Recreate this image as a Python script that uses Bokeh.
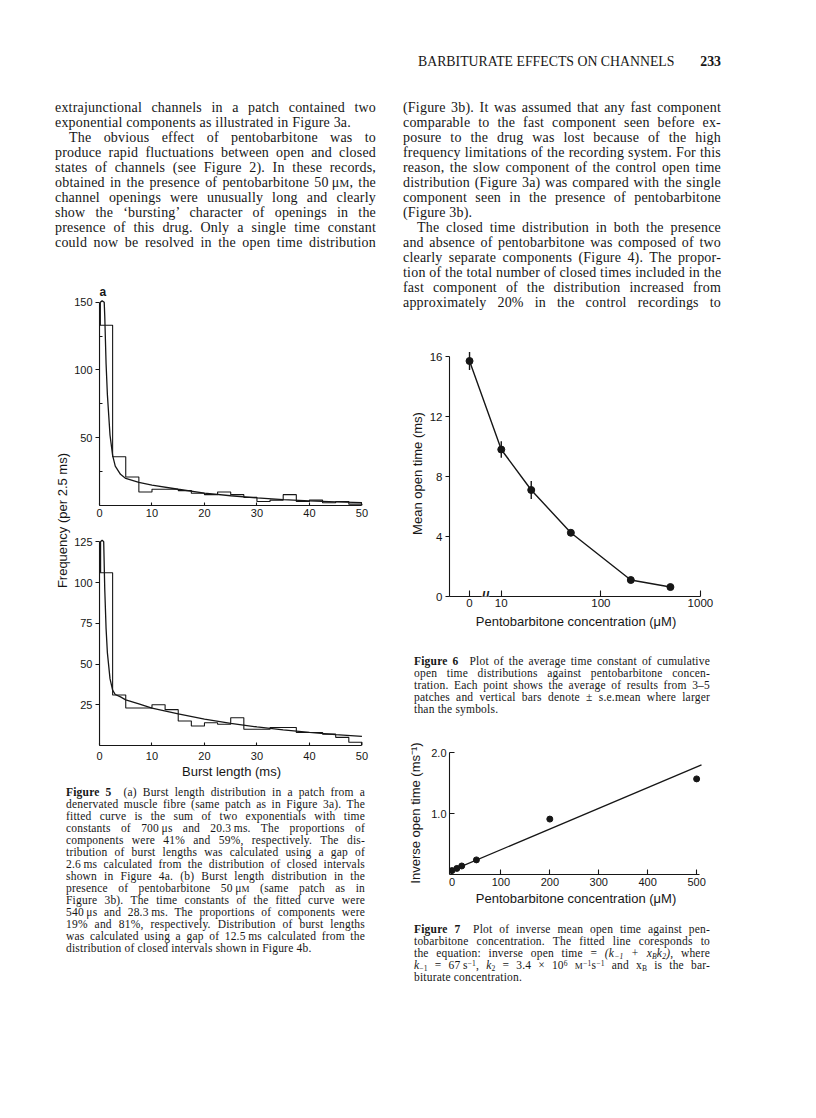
from bokeh.plotting import figure
from bokeh.models import Range1d, FixedTicker, Label, Title, Div, Spacer, NumeralTickFormatter
from bokeh.layouts import column, row
from bokeh.embed import file_html
from bokeh.resources import INLINE

SERIF = "Liberation Serif"
SANS = "Liberation Sans"
INK = "#161616"

# ---------------- Figure 5 data ----------------
BIN_START_MS = [0, 2.5, 5, 7.5, 10, 12.5, 15, 17.5, 20, 22.5, 25, 27.5, 30,
                32.5, 35, 37.5, 40, 42.5, 45, 47.5]
BIN_WIDTH_MS = 2.5
COUNTS_A = [133, 36, 21, 10, 12, 12, 11, 9, 8, 10, 8, 6, 3, 4, 8, 3, 4, 2, 3, 1]
COUNTS_B = [106, 31, 23, 23, 25, 22, 15, 12, 14, 13, 17, 10, 10, 11, 11, 8, 8, 7, 5, 2]
FIT_A_X = [0.15, 0.15, 0.5, 0.9, 1.0, 1.25, 1.5, 2, 2.5, 3, 4, 5, 7.5, 10, 15, 20,
           25, 30, 35, 40, 45, 50]
FIT_A_Y = [133, 150, 151, 150, 140, 105, 82, 52, 37, 29, 23, 20, 17, 15, 12, 9.2,
           7.2, 5.6, 4.4, 3.4, 2.7, 2.1]
FIT_B_X = [0.2, 0.2, 0.5, 0.8, 1.0, 1.25, 1.5, 2, 2.5, 3, 4, 5, 7.5, 10, 15, 20,
           25, 30, 35, 40, 45, 50]
FIT_B_Y = [106, 125, 126, 125, 96, 72, 57, 41, 34, 31.3, 29.8, 28, 25.5, 23, 19.4,
           16.2, 13.6, 11.4, 9.6, 8, 6.7, 5.6]
X_TICKS_5 = [0, 10, 20, 30, 40, 50]
Y_TICKS_5A = [50, 100, 150]
Y_MINOR_5A = [25, 75, 125]
Y_TICKS_5B = [25, 50, 75, 100, 125]

# ---------------- Figure 6 data ----------------
CONC = [0, 10, 20, 50, 200, 500]
MEAN_OPEN_MS = [15.7, 9.8, 7.1, 4.25, 1.1, 0.63]
SEM_MS = [0.6, 0.55, 0.6, 0.0, 0.0, 0.0]
ZERO_POS = 4.8            # where the control (0 uM) point sits on the broken log axis
X_TICKS_6 = [ZERO_POS, 10, 100, 1000]
X_LABELS_6 = ["0", "10", "100", "1000"]
Y_TICKS_6 = [0, 4, 8, 12, 16]

# ---------------- Figure 7 data ----------------
CONC7 = [0, 10, 20, 50, 200, 500]
INV_OPEN = [0.064, 0.10, 0.14, 0.24, 0.91, 1.57]
FIT7_X = [0, 510]
FIT7_Y = [0.067, 1.80]
X_TICKS_7 = [0, 100, 200, 300, 400, 500]
Y_TICKS_7 = [1.0, 2.0]


def style_axes(p, tick_size="11px", label_size="13px"):
    p.grid.visible = False
    p.outline_line_color = None
    for ax in p.axis:
        ax.axis_line_color = INK
        ax.axis_line_width = 1.1
        ax.major_tick_line_color = INK
        ax.major_tick_line_width = 1.1
        ax.minor_tick_line_color = None
        ax.major_label_text_font = SANS
        ax.major_label_text_font_size = tick_size
        ax.major_label_text_color = INK
        ax.axis_label_text_font = SANS
        ax.axis_label_text_font_size = label_size
        ax.axis_label_text_font_style = "normal"
        ax.axis_label_text_color = INK


def step_outline(starts, counts, width):
    xs = [starts[0]] + list(starts) + [starts[-1] + width]
    ys = [0] + list(counts) + [0]
    return xs, ys


def hist_fig(height, yr, top, bottom, counts, fx, fy, yticks, yminor):
    p = figure(width=305, height=height, x_range=Range1d(0, 50.3), y_range=Range1d(0, yr),
               min_border_left=28, min_border_right=13, min_border_top=top,
               min_border_bottom=bottom, output_backend="svg", toolbar_location=None,
               title=None)
    xs, ys = step_outline(BIN_START_MS, counts, BIN_WIDTH_MS)
    p.step(x=xs, y=ys, mode="after", line_color=INK, line_width=1.1)
    p.line(x=fx, y=fy, line_color=INK, line_width=1.3)
    style_axes(p)
    p.xaxis.ticker = FixedTicker(ticks=X_TICKS_5)
    p.xaxis.bounds = (0, 50)
    p.xaxis.major_tick_in = 3
    p.xaxis.major_tick_out = 0
    p.yaxis.ticker = FixedTicker(ticks=yticks, minor_ticks=yminor)
    p.yaxis.bounds = (0, yticks[-1])
    p.yaxis.major_tick_out = 4
    p.yaxis.major_tick_in = 0
    p.yaxis.minor_tick_line_color = INK
    p.yaxis.minor_tick_in = 3
    p.yaxis.minor_tick_out = 0
    p.yaxis.major_label_standoff = 3
    return p


# panel a: frame 206 px tall, tick labels only below
fig5a = hist_fig(273, 152, 49, 18, COUNTS_A, FIT_A_X, FIT_A_Y, Y_TICKS_5A, Y_MINOR_5A)
fig5a.xaxis.major_label_standoff = 3
fig5a.add_layout(Title(text="a", align="left", text_font=SANS, text_font_size="12px",
                       text_font_style="bold", text_color=INK, standoff=2), "above")

# panel b: frame 207 px tall; its top margin carries panel a's axis title and the "b"
FRAME_B = 207
fig5b = hist_fig(260, 127, 15, 38, COUNTS_B, FIT_B_X, FIT_B_Y, Y_TICKS_5B, [])
fig5b.xaxis.major_label_standoff = 6
fig5b.xaxis.axis_label = "Burst length (ms)"
fig5b.xaxis.axis_label_standoff = 1
fig5b.add_layout(Label(x=0.4, y=FRAME_B + 8, x_units="data", y_units="screen", text="b",
                       text_font=SANS, text_font_size="12px", text_font_style="bold",
                       text_color=INK, text_baseline="middle", text_align="left"))
fig5b.add_layout(Label(x=X_TICKS_5[-1] / 2, y=FRAME_B + 8, x_units="data", y_units="screen",
                       text="Burst length (ms)", text_font=SANS, text_font_size="13px",
                       text_color=INK, text_baseline="middle", text_align="center"))

# ---------------- Figure 6 ----------------
x6_start = 3.02
fig6 = figure(width=318, height=327, x_axis_type="log", x_range=Range1d(x6_start, 1050),
              y_range=Range1d(0, 16.4), min_border_left=46, min_border_right=19,
              min_border_top=40, min_border_bottom=41, output_backend="svg",
              toolbar_location=None, title=None)
x6 = [ZERO_POS if c == 0 else c for c in CONC]
fig6.line(x=x6, y=MEAN_OPEN_MS, line_color=INK, line_width=1.4)
fig6.segment(x0=x6, y0=[m - s for m, s in zip(MEAN_OPEN_MS, SEM_MS)],
             x1=x6, y1=[m + s for m, s in zip(MEAN_OPEN_MS, SEM_MS)],
             line_color=INK, line_width=1.4)
fig6.scatter(x=x6, y=MEAN_OPEN_MS, size=7, marker="circle", fill_color=INK, line_color=INK)
style_axes(fig6, tick_size="11.5px")
fig6.xaxis.ticker = FixedTicker(ticks=X_TICKS_6)
fig6.xaxis.major_label_overrides = {t: s for t, s in zip(X_TICKS_6, X_LABELS_6)}
fig6.xaxis.bounds = (x6_start, X_TICKS_6[-1])
fig6.xaxis.major_tick_in = 6
fig6.xaxis.major_tick_out = 0
fig6.xaxis.major_label_standoff = 2
fig6.xaxis.axis_label = "Pentobarbitone concentration (μM)"
fig6.xaxis.axis_label_standoff = 4
fig6.yaxis.ticker = FixedTicker(ticks=Y_TICKS_6)
fig6.yaxis.bounds = (0, Y_TICKS_6[-1])
fig6.yaxis.major_tick_out = 4
fig6.yaxis.major_tick_in = 0
fig6.yaxis.major_label_standoff = 3
fig6.yaxis.axis_label = "Mean open time (ms)"
fig6.yaxis.axis_label_standoff = 2
# axis-break mark between the control point and 10 uM (white box interrupts the axis line)
fig6.add_layout(Label(x=(ZERO_POS * X_TICKS_6[1]) ** 0.5, y=0, text="//", text_font=SANS,
                      text_font_size="14px", text_font_style="bold", text_color=INK,
                      text_align="center", text_baseline="middle",
                      background_fill_color="white", background_fill_alpha=1.0))

# ---------------- Figure 7 ----------------
x7_start = -5
fig7 = figure(width=318, height=199, x_range=Range1d(x7_start, 512), y_range=Range1d(0, 2.02),
              min_border_left=36, min_border_right=6, min_border_top=36,
              min_border_bottom=40, output_backend="svg", toolbar_location=None,
              title=None)
fig7.line(x=FIT7_X, y=FIT7_Y, line_color=INK, line_width=1.3)
fig7.scatter(x=CONC7, y=INV_OPEN, size=6, marker="circle", fill_color=INK, line_color=INK)
style_axes(fig7)
fig7.yaxis.bounds = (0, Y_TICKS_7[-1])
fig7.yaxis.ticker = FixedTicker(ticks=Y_TICKS_7)
fig7.yaxis.formatter = NumeralTickFormatter(format="0.0")
fig7.yaxis.major_tick_in = 5
fig7.yaxis.major_tick_out = 0
fig7.yaxis.major_label_standoff = 3
fig7.yaxis.axis_label = "Inverse open time (ms⁻¹)"
fig7.yaxis.axis_label_standoff = 5
fig7.xaxis.ticker = FixedTicker(ticks=X_TICKS_7)
fig7.xaxis.bounds = (x7_start, 505)
fig7.xaxis.major_tick_in = 5
fig7.xaxis.major_tick_out = 0
fig7.xaxis.major_label_standoff = 3
fig7.xaxis.axis_label = "Pentobarbitone concentration (μM)"
fig7.xaxis.axis_label_standoff = 2

# ---------------- Text blocks ----------------
MU_M = 'μ<span style="font-size:0.78em">M</span>'
SMALL_M = '<span style="font-size:0.78em">M</span>'


def fix_subsup(s):
    s = s.replace("<sub>", '<sub style="font-size:0.66em;line-height:0;vertical-align:-0.2em">')
    s = s.replace("<sup>", '<sup style="font-size:0.66em;line-height:0;vertical-align:0.4em">')
    return s


def text_block(lines, size, lh, width, height, pad_left=0, inner_width=None, ls=0.2):
    parts = []
    for txt, fl in lines:
        last = "left" if "l" in fl else "justify"
        indent = "14px" if "i" in fl else "0"
        parts.append(
            f'<div style="text-align:justify;text-align-last:{last};text-indent:{indent};'
            f'white-space:nowrap;height:{lh}px;overflow:visible">{fix_subsup(txt)}</div>')
    w = inner_width if inner_width else width - pad_left
    html = (f'<div style="font-family:\'{SERIF}\';font-size:{size}px;line-height:{lh}px;'
            f'letter-spacing:{ls}px;color:{INK};width:{w}px;margin-left:{pad_left}px">'
            + "".join(parts) + "</div>")
    return Div(text=html, width=width, height=height, margin=0, disable_math=True)


LEFT_BODY = [
    ("extrajunctional channels in a patch contained two", "j"),
    ("exponential components as illustrated in Figure 3a.", "l"),
    ("The obvious effect of pentobarbitone was to", "i"),
    ("produce rapid fluctuations between open and closed", "j"),
    ("states of channels (see Figure 2). In these records,", "j"),
    (f"obtained in the presence of pentobarbitone 50&thinsp;{MU_M}, the", "j"),
    ("channel openings were unusually long and clearly", "j"),
    ("show the &lsquo;bursting&rsquo; character of openings in the", "j"),
    ("presence of this drug. Only a single time constant", "j"),
    ("could now be resolved in the open time distribution", "j"),
]
RIGHT_BODY = [
    ("(Figure 3b). It was assumed that any fast component", "j"),
    ("comparable to the fast component seen before ex-", "j"),
    ("posure to the drug was lost because of the high", "j"),
    ("frequency limitations of the recording system. For this", "j"),
    ("reason, the slow component of the control open time", "j"),
    ("distribution (Figure 3a) was compared with the single", "j"),
    ("component seen in the presence of pentobarbitone", "j"),
    ("(Figure 3b).", "l"),
    ("The closed time distribution in both the presence", "i"),
    ("and absence of pentobarbitone was composed of two", "j"),
    ("clearly separate components (Figure 4). The propor-", "j"),
    ("tion of the total number of closed times included in the", "j"),
    ("fast component of the distribution increased from", "j"),
    ("approximately 20% in the control recordings to", "j"),
]
CAP5 = [
    ("<b>Figure 5</b>&ensp; (a) Burst length distribution in a patch from a", "j"),
    ("denervated muscle fibre (same patch as in Figure 3a). The", "j"),
    ("fitted curve is the sum of two exponentials with time", "j"),
    ("constants of 700&thinsp;μs and 20.3&thinsp;ms. The proportions of", "j"),
    ("components were 41% and 59%, respectively. The dis-", "j"),
    ("tribution of burst lengths was calculated using a gap of", "j"),
    ("2.6&thinsp;ms calculated from the distribution of closed intervals", "j"),
    ("shown in Figure 4a. (b) Burst length distribution in the", "j"),
    (f"presence of pentobarbitone 50&thinsp;{MU_M} (same patch as in", "j"),
    ("Figure 3b). The time constants of the fitted curve were", "j"),
    ("540&thinsp;μs and 28.3&thinsp;ms. The proportions of components were", "j"),
    ("19% and 81%, respectively. Distribution of burst lengths", "j"),
    ("was calculated using a gap of 12.5&thinsp;ms calculated from the", "j"),
    ("distribution of closed intervals shown in Figure 4b.", "l"),
]
CAP6 = [
    ("<b>Figure 6</b>&ensp; Plot of the average time constant of cumulative", "j"),
    ("open time distributions against pentobarbitone concen-", "j"),
    ("tration. Each point shows the average of results from 3&ndash;5", "j"),
    ("patches and vertical bars denote &plusmn; s.e.mean where larger", "j"),
    ("than the symbols.", "l"),
]
CAP7 = [
    ("<b>Figure 7</b>&ensp; Plot of inverse mean open time against pen-", "j"),
    ("tobarbitone concentration. The fitted line coresponds to", "j"),
    ("the equation: inverse open time = <i>(k<sub>&minus;1</sub> + x<sub>B</sub>k<sub>2</sub>)</i>, where", "j"),
    (f"<i>k</i><sub>&minus;1</sub> = 67&thinsp;s<sup>&minus;1</sup>, <i>k</i><sub>2</sub> = 3.4 &times; 10<sup>6</sup> "
     f"{SMALL_M}<sup>&minus;1</sup>s<sup>&minus;1</sup> and x<sub>B</sub> is the bar-", "j"),
    ("biturate concentration.", "l"),
]

header = Div(text=(f'<div style="display:flex;justify-content:space-between;font-family:\'{SERIF}\';'
                   f'font-size:13.8px;line-height:16px;color:{INK};width:303px">'
                   '<span>BARBITURATE EFFECTS ON CHANNELS</span>'
                   '<span style="font-weight:bold">233</span></div>'),
             width=303, height=16, margin=0, disable_math=True)

body_left = text_block(LEFT_BODY, 14, 15, 321, 150)
body_right = text_block(RIGHT_BODY, 14, 15, 318, 210)
cap5 = text_block(CAP5, 11.5, 12, 321, 170, pad_left=11, inner_width=299)
cap6 = text_block(CAP6, 11.5, 12, 318, 60, pad_left=11, inner_width=296)
cap7 = text_block(CAP7, 11.5, 12, 318, 62, pad_left=11, inner_width=296)

ylab5 = Div(text=(f'<div style="width:16px;height:533px;display:flex;align-items:center;'
                  f'justify-content:center;padding-top:9px;box-sizing:border-box">'
                  f'<span style="writing-mode:vertical-rl;transform:rotate(180deg);'
                  f'font-family:\'{SANS}\';font-size:13px;white-space:nowrap;color:{INK}">'
                  'Frequency (per 2.5 ms)</span></div>'),
            width=16, height=533, margin=0, disable_math=True)

left_col = column(body_left, row(ylab5, column(fig5a, fig5b)), Spacer(height=3, width=10),
                  cap5)
right_col = column(body_right, fig6, Spacer(height=18, width=10), cap6, fig7,
                   Spacer(height=9, width=10), cap7)
body_row = row(Spacer(width=55, height=10), left_col, Spacer(width=27, height=10), right_col)
header_row = row(Spacer(width=418, height=16), header)
page = column(Spacer(height=54, width=10), header_row, Spacer(height=30, width=10), body_row)

open("out.html", "w").write(file_html(page, INLINE))
